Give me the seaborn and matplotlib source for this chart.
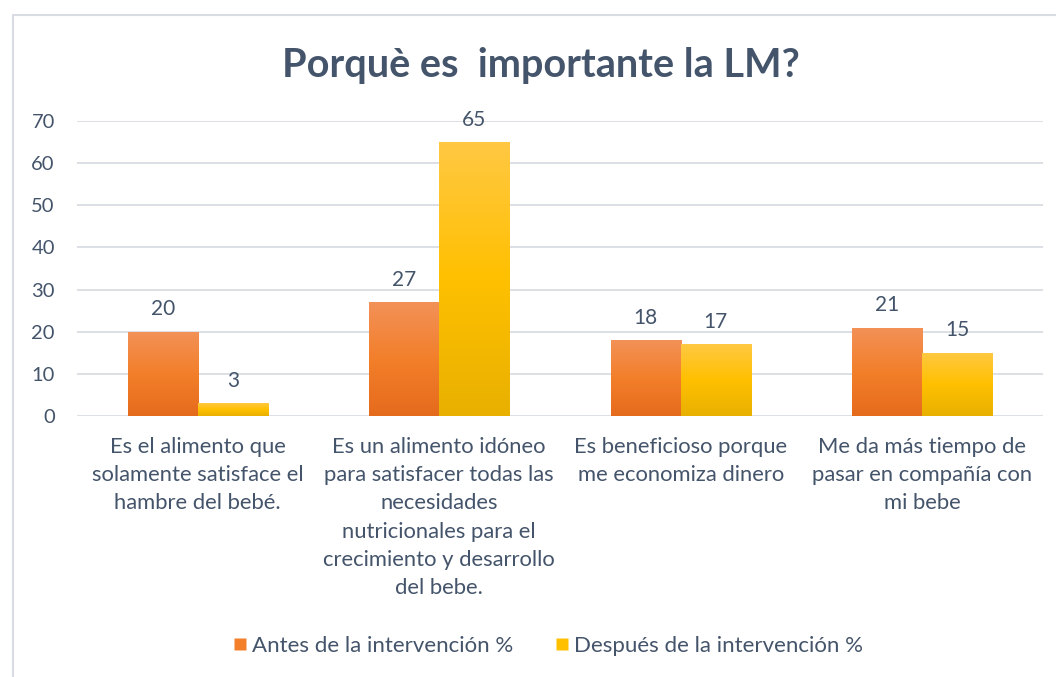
import matplotlib
matplotlib.use('Agg')

import numpy as np
import pandas as pd
import matplotlib.pyplot as plt
import seaborn as sns
from matplotlib.colors import LinearSegmentedColormap
from matplotlib.lines import Line2D

sns.set_theme(style="white")
plt.rcParams['font.family'] = ['Lato', 'DejaVu Sans']

# Daten
categorias = [
    "Es el alimento que\nsolamente satisface el\nhambre del bebé.",
    "Es un alimento idóneo\npara satisfacer todas las\nnecesidades\nnutricionales para el\ncrecimiento y desarrollo\ndel bebe.",
    "Es beneficioso porque\nme economiza dinero",
    "Me da más tiempo de\npasar en compañía con\nmi bebe",
]
antes = [20, 27, 18, 21]
despues = [3, 65, 17, 15]
series = ["Antes de la intervención %", "Después de la intervención %"]

df = pd.DataFrame({
    "categoria": categorias * 2,
    "valor": antes + despues,
    "serie": [series[0]] * len(antes) + [series[1]] * len(despues),
})

texto = "#44546A"
grid_c = "#D9DDE3"
colores = {series[0]: "#F37F2A", series[1]: "#FFC000"}
gradientes = {
    series[0]: ["#F29158", "#F37F2A", "#E56B1C"],
    series[1]: ["#FFC843", "#FFC000", "#E8B000"],
}

fig = plt.figure(figsize=(10.56, 6.77), dpi=100)
ax = fig.add_axes([77 / 1056, 1 - 416 / 677, 966 / 1056, (416 - 121) / 677])

sns.barplot(data=df, x="categoria", y="valor", hue="serie", palette=colores,
            width=0.58, ax=ax, saturation=1, legend=False, errorbar=None)

# Verlauf auf den Balken
for cont, s in zip(ax.containers, series):
    cmap = LinearSegmentedColormap.from_list(s, gradientes[s][::-1])
    grad = np.linspace(0, 1, 256).reshape(-1, 1)
    for bar in cont:
        x0, y0 = bar.get_x(), bar.get_y()
        w, h = bar.get_width(), bar.get_height()
        im = ax.imshow(grad, cmap=cmap, origin="lower", aspect="auto",
                       extent=[x0, x0 + w, y0, y0 + h], zorder=2)
        im.set_clip_path(bar)
        bar.set_facecolor("none")
        bar.set_edgecolor("none")
    ax.bar_label(cont, fmt="%d", padding=9, color=texto, fontsize=15)

ax.set_xlim(-0.5, 3.5)
ax.set_ylim(0, 70)
ax.set_yticks(range(0, 71, 10))
ax.yaxis.grid(True, color=grid_c, linewidth=1.3)
ax.set_axisbelow(True)
for sp in ax.spines.values():
    sp.set_visible(False)
ax.set_xlabel("")
ax.set_ylabel("")
ax.tick_params(axis="both", length=0, labelcolor=texto)
ax.tick_params(axis="y", pad=16, labelsize=14.5)
ax.tick_params(axis="x", pad=15, labelsize=15.8)
for lbl in ax.get_xticklabels():
    lbl.set_linespacing(1.52)

fig.suptitle("Porquè es  importante la LM?", x=541 / 1056, y=1 - 65 / 677,
             va="center", fontsize=28.5, fontweight="bold", color=texto)

handles = [Line2D([], [], marker="s", linestyle="none", markersize=9,
                  markerfacecolor=colores[s], markeredgecolor="none") for s in series]
fig.legend(handles, series, loc="center", bbox_to_anchor=(548 / 1056, 1 - 646 / 677),
           ncol=2, frameon=False, fontsize=16, labelcolor=texto,
           handlelength=0.6, handletextpad=0.25, columnspacing=1.9)

# Rahmen des Diagrammbereichs
fig.add_artist(Line2D([13 / 1056, 13 / 1056], [0, 1 - 15 / 677],
                      transform=fig.transFigure, color=grid_c, linewidth=1.5))
fig.add_artist(Line2D([13 / 1056, 1], [1 - 15 / 677, 1 - 15 / 677],
                      transform=fig.transFigure, color=grid_c, linewidth=1.5))

fig.savefig("out.png", dpi=100)
